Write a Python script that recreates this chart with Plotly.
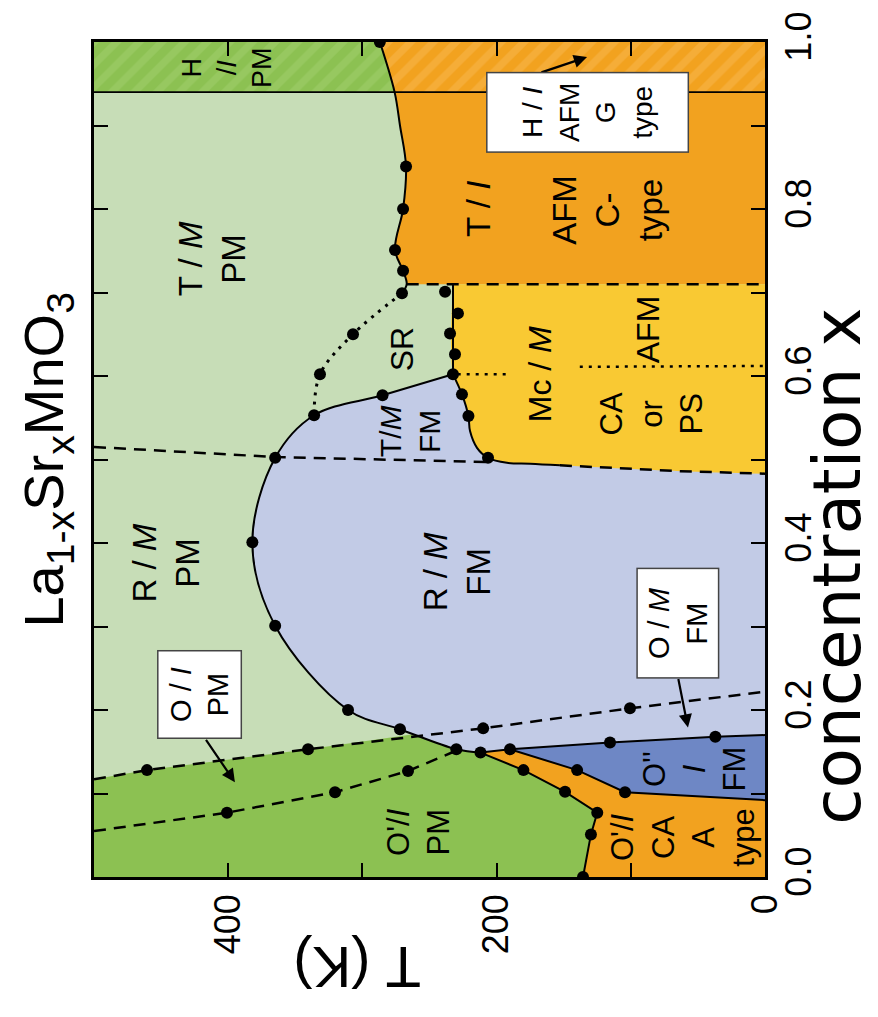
import plotly.graph_objects as go

FONT = "Liberation Sans, Arial, sans-serif"
LG, DG, LB, DB, OR, YE = "#C7DDB7", "#8CC152", "#C2CBE6", "#6E87C5", "#F2A21F", "#F9C933"

T_MIN, T_MAX = 0, 500
X_MIN, X_MAX = 0.0, 1.0

# ---- boundary data (T in K, x = Sr concentration) ----
# T/M PM  |  T/I AFM (C-type) and H region boundary
tn_x = [0.699, 0.71, 0.726, 0.751, 0.80, 0.851, 0.90, 0.94, 1.0]
tn_T = [270.5, 267, 269.7, 275.7, 269.7, 267.5, 272, 276, 287]
tn_dot_x = [0.699, 0.726, 0.751, 0.80, 0.851, 1.0]
tn_dot_T = [270.5, 269.7, 275.7, 269.7, 267.5, 287]

# hexagonal phase limit
hex_x = 0.94
# C-type lower limit
ctype_x = 0.71

# ferromagnetic dome (Curie temperature)
dome_x = [0.149, 0.153, 0.177, 0.200, 0.301, 0.401, 0.502, 0.553, 0.577, 0.602]
dome_T = [212, 230, 272, 310.7, 365, 382, 365, 336, 285, 232.5]

# SR region right edge
sr_line_x = [0.602, 0.71]
sr_line_T = [232.5, 232.5]
sr_dot_x = [0.626, 0.651, 0.675, 0.701]
sr_dot_T = [231, 234.7, 228.8, 238.4]

# SR dotted boundary
srd_x = [0.699, 0.65, 0.602, 0.553]
srd_T = [270.5, 307, 331.6, 336]

# Mc (yellow) region boundary
ye_x = [0.602, 0.578, 0.552, 0.534, 0.514, 0.502, 0.496, 0.495, 0.493]
ye_T = [232.5, 225.8, 221, 219.8, 214.6, 206.4, 192.3, 175, 152.8]
ye_dot_x = [0.578, 0.552, 0.502]
ye_dot_T = [225.8, 221, 206.4]
ye_dash_x = [0.493, 0.486, 0.483]
ye_dash_T = [152.8, 63, 0]

# dotted line inside the yellow region (CA / AFM)
yd1_x = [0.602, 0.602]
yd1_T = [229, 192]
yd2_x = [0.611, 0.612]
yd2_T = [138, 0]

# R / T structural boundary (dashed)
rt_x = [0.515, 0.503, 0.497]
rt_T = [500, 365, 208]

# O / R structural boundary (upper dashed)
ud_x = [0.117, 0.128, 0.153, 0.178, 0.202, 0.222]
ud_T = [500, 460.5, 340.5, 210, 100.6, 0]
ud_dot_x = [0.128, 0.153, 0.178, 0.202]
ud_dot_T = [460.5, 340.5, 210, 100.6]

# O / O' boundary (lower dashed)
ld_x = [0.055, 0.077, 0.1016, 0.127, 0.150]
ld_T = [500, 400.9, 320.4, 266, 232]
ld_dot_x = [0.077, 0.1016, 0.127]
ld_dot_T = [400.9, 320.4, 266]

# junction of upper dashed line with the dome
junc_T, junc_x = 262, 0.171

# O'/I PM  |  O'/I CA boundary
go_x = [0.149, 0.128, 0.102, 0.077, 0.051, 0.0]
go_T = [212, 180, 149, 125, 129.7, 135.6]

# O'/I CA  |  O''/I FM boundary
oo_x = [0.149, 0.153, 0.128, 0.1015, 0.092]
oo_T = [212, 190, 140, 104.3, 0]
oo_dot_x = [0.153, 0.128, 0.1015]
oo_dot_T = [190, 140, 104.3]

# O''/I FM  |  O/M FM boundary
ot_x = [0.153, 0.161, 0.168, 0.170]
ot_T = [190, 115.5, 37, 0]
ot_dot_x = [0.161, 0.168]
ot_dot_T = [115.5, 37]

# tick labels
t_ticks = [0, 100, 200, 300, 400, 500]
t_ticktext = ["0", "", "200", "", "400", ""]
x_ticks = [0.0, 0.1, 0.2, 0.3, 0.4, 0.5, 0.6, 0.7, 0.8, 0.9, 1.0]
x_ticktext = ["0.0", "", "0.2", "", "0.4", "", "0.6", "", "0.8", "", "1.0"]

# region labels: (text, T, x, size)
labels = [
    ("H<br>/<i>I</i><br>PM", 401, 0.970, 27),
    ("T / <i>M</i><br>PM", 412, 0.740, 33),
    ("R / <i>M</i><br>PM", 446, 0.376, 33),
    ("SR", 270.5, 0.632, 32),
    ("T/<i>M</i><br>FM", 264.5, 0.534, 30),
    ("R / <i>M</i><br>FM", 229.5, 0.365, 33),
    ("Mc / <i>M</i>", 167.7, 0.602, 32),
    ("AFM", 87.2, 0.656, 32),
    ("CA<br>or<br>PS", 84.2, 0.554, 31),
    ("T / <i>I</i>", 213.9, 0.800, 33),
    ("AFM<br>C-<br>type", 117, 0.799, 33),
    ("O'/<i>I</i><br>PM", 257.8, 0.054, 31),
    ("O'/<i>I</i><br>CA<br>A<br>type", 61.1, 0.047, 31),
    ("O''<br><i>I</i><br>FM", 52.2, 0.130, 31),
]
# boxed labels: (text, T, x, size, width, height)
boxes = [
    ("O / <i>I</i><br>PM", 421, 0.218, 29, 84, 80),
    ("O / <i>M</i><br>FM", 65.2, 0.304, 29, 106, 78),
    ("H / <i>I</i><br>AFM<br>G<br>type", 132.3, 0.9157, 28, 76, 198),
]
# arrows: (head T, head x, tail T, tail x)
arrows = [
    (395, 0.1135, 417.3, 0.166),
    (57.4, 0.179, 64.8, 0.239),
    (132.6, 0.982, 167.7, 0.963),
]

fig = go.Figure()


def fill_poly(T, x, color, fill="toself", shape="linear", pattern=None):
    kw = {}
    if pattern is not None:
        kw["fillpattern"] = pattern
    fig.add_trace(go.Scatter(x=T, y=x, mode="lines", fill=fill, fillcolor=color,
                             line=dict(width=0, color=color, shape=shape),
                             hoverinfo="skip", showlegend=False, **kw))


def line(T, x, dash="solid", width=2, shape="linear"):
    fig.add_trace(go.Scatter(x=T, y=x, mode="lines",
                             line=dict(color="black", width=width, dash=dash, shape=shape),
                             hoverinfo="skip", showlegend=False))


def dots(T, x):
    fig.add_trace(go.Scatter(x=T, y=x, mode="markers",
                             marker=dict(color="black", size=12),
                             hoverinfo="skip", showlegend=False))


# ---- fills ----
fill_poly([T_MIN, T_MAX, T_MAX, T_MIN], [X_MIN, X_MIN, X_MAX, X_MAX], LG)
fill_poly([T_MIN, T_MAX, T_MAX, T_MIN], [hex_x, hex_x, X_MAX, X_MAX], DG,
          pattern=dict(shape="/", bgcolor=DG, fgcolor="#97C860", size=16, solidity=0.45, fillmode="replace"))
fill_poly(dome_T, dome_x, LB, fill="tozerox", shape="spline")
fill_poly(tn_T[1:8], tn_x[1:8], OR, fill="tozerox", shape="spline")
fill_poly(tn_T[7:9], tn_x[7:9], OR, fill="tozerox",
          pattern=dict(shape="/", bgcolor=OR, fgcolor="#F5AD38", size=16, solidity=0.45, fillmode="replace"))
ye_fill_T = ye_dash_T[::-1] + ye_T[::-1][1:] + [sr_line_T[1]]
ye_fill_x = ye_dash_x[::-1] + ye_x[::-1][1:] + [sr_line_x[1]]
fill_poly(ye_fill_T, ye_fill_x, YE, fill="tozerox", shape="spline")
dg_T = [T_MAX] + ud_T[0:3] + [junc_T, dome_T[1], dome_T[0]] + go_T[1:]
dg_x = [X_MIN] + ud_x[0:3] + [junc_x, dome_x[1], dome_x[0]] + go_x[1:]
fill_poly(dg_T, dg_x, DG)
fill_poly(go_T + [T_MIN] + oo_T[::-1], go_x + [X_MIN] + oo_x[::-1], OR)
fill_poly(oo_T[1:] + ot_T[::-1], oo_x[1:] + ot_x[::-1], DB)

# ---- boundary lines ----
DASH = "12px,8px"
DOT = "3px,6px"
line(tn_T, tn_x, shape="spline")
line([T_MAX, T_MIN], [hex_x, hex_x], width=1.8)
line([tn_T[1], T_MIN], [ctype_x, ctype_x], dash=DASH, width=2.5)
line(sr_line_T, sr_line_x)
line(dome_T, dome_x, shape="spline")
line(ye_T, ye_x, shape="spline")
line(ye_dash_T, ye_dash_x, dash=DASH, width=2.5)
line(srd_T, srd_x, dash=DOT, width=3, shape="spline")
line(yd1_T, yd1_x, dash=DOT, width=2.5)
line(yd2_T, yd2_x, dash=DOT, width=2.5)
line(rt_T, rt_x, dash=DASH, width=2.5)
line(ud_T, ud_x, dash=DASH, width=2.5)
line(ld_T, ld_x, dash=DASH, width=2.5)
line(go_T, go_x)
line(oo_T, oo_x)
line(ot_T, ot_x)

# ---- data points ----
dots(tn_dot_T, tn_dot_x)
dots(dome_T, dome_x)
dots(sr_dot_T, sr_dot_x)
dots(srd_T[1:3], srd_x[1:3])
dots(ye_dot_T, ye_dot_x)
dots(ud_dot_T, ud_dot_x)
dots(ld_dot_T, ld_dot_x)
dots(go_T[1:], go_x[1:])
dots(oo_dot_T, oo_dot_x)
dots(ot_dot_T, ot_dot_x)

ann = []
for hT, hx, tT, tx in arrows:
    ann.append(dict(x=hT, y=hx, ax=tT, ay=tx, xref="x", yref="y", axref="x", ayref="y",
                    text="", showarrow=True, arrowhead=2, arrowsize=1.2, arrowwidth=2.2,
                    arrowcolor="black", standoff=0, startstandoff=0))
for txt, T, x, s in labels:
    ann.append(dict(x=T, y=x, xref="x", yref="y", text=txt, showarrow=False, textangle=-90,
                    font=dict(family=FONT, size=s, color="black"), xanchor="center", yanchor="middle"))
for txt, T, x, s, w, h in boxes:
    ann.append(dict(x=T, y=x, xref="x", yref="y", text=txt, showarrow=False, textangle=-90,
                    width=w, height=h, bgcolor="white", bordercolor="#444", borderwidth=1.5, borderpad=1,
                    font=dict(family=FONT, size=s, color="black"), xanchor="center", yanchor="middle"))
# titles
ann.append(dict(x=-0.070, y=0.50, xref="paper", yref="paper", showarrow=False, textangle=-90,
                text="La<sub>1-x</sub>Sr<sub>x</sub>MnO<sub>3</sub>",
                font=dict(family=FONT, size=56, color="black"), xanchor="center", yanchor="middle"))
ann.append(dict(x=0.392, y=-0.1075, xref="paper", yref="paper", showarrow=False, textangle=180,
                text="T (K)", font=dict(family=FONT, size=58, color="black"),
                xanchor="center", yanchor="middle"))
ann.append(dict(x=1.108, y=0.372, xref="paper", yref="paper", showarrow=False, textangle=-90,
                text="concentration x", font=dict(family="DejaVu Sans, Liberation Sans, sans-serif", size=66, color="black"),
                xanchor="center", yanchor="middle"))

axis_common = dict(ticks="inside", ticklen=14, tickwidth=2, tickcolor="black", mirror="allticks",
                   showline=True, linecolor="black", linewidth=2.5, showgrid=False, zeroline=False,
                   tickangle=-90, tickfont=dict(family=FONT, size=36, color="black"))
fig.update_layout(
    width=878, height=1017,
    margin=dict(l=94, r=113, t=40, b=140),
    paper_bgcolor="white", plot_bgcolor="white",
    xaxis=dict(range=[T_MAX, T_MIN], tickvals=t_ticks, ticktext=t_ticktext, **axis_common),
    yaxis=dict(range=[X_MIN, X_MAX], tickvals=x_ticks, ticktext=x_ticktext, side="right", **axis_common),
    annotations=ann,
    showlegend=False,
)
fig.write_html("out.html")
